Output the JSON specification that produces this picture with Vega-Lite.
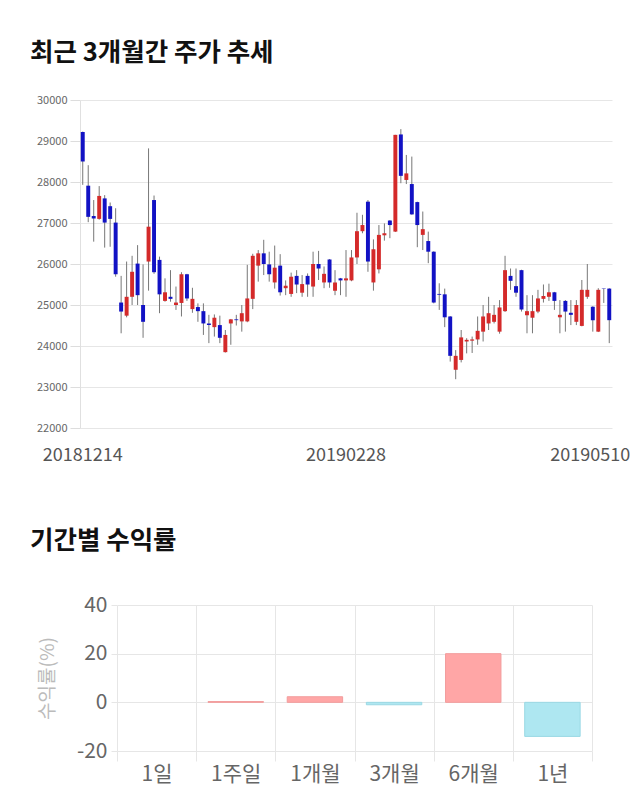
{
  "$schema": "https://vega.github.io/schema/vega-lite/v6.json",
  "background": "white",
  "padding": {"left": 30, "top": 40, "right": 5, "bottom": 20},
  "bounds": "flush",
  "spacing": 177,
  "config": {"view": {"stroke": null}, "font": "Noto Sans CJK KR"},
  "vconcat": [
    {
      "width": 532,
      "height": 328,
      "title": {"text": "최근 3개월간 주가 추세", "anchor": "start", "frame": "group", "dx": -50, "offset": 28, "fontSize": 25.5, "fontWeight": "bold", "color": "#111111", "font": "Noto Sans CJK KR"},
      "data": {"values": [
        {"d": "20181214", "o": 29220, "h": 29230, "l": 27930, "c": 28500},
        {"d": "20181217", "o": 27910, "h": 28410, "l": 27020, "c": 27150},
        {"d": "20181218", "o": 27170, "h": 27560, "l": 26545, "c": 27110},
        {"d": "20181219", "o": 27100, "h": 27900, "l": 27080, "c": 27660},
        {"d": "20181220", "o": 27600, "h": 27680, "l": 26400, "c": 27010},
        {"d": "20181221", "o": 27410, "h": 27500, "l": 26420, "c": 27100},
        {"d": "20181224", "o": 27010, "h": 27360, "l": 25690, "c": 25750},
        {"d": "20181226", "o": 25060, "h": 25710, "l": 24310, "c": 24840},
        {"d": "20181227", "o": 24740, "h": 26060, "l": 24700, "c": 25200},
        {"d": "20181228", "o": 25200, "h": 26200, "l": 25000, "c": 25810},
        {"d": "20190102", "o": 26010, "h": 26460, "l": 25000, "c": 25240},
        {"d": "20190103", "o": 25000, "h": 25990, "l": 24200, "c": 24590},
        {"d": "20190104", "o": 26060, "h": 28820, "l": 25350, "c": 26910},
        {"d": "20190107", "o": 27560, "h": 27670, "l": 25760, "c": 25800},
        {"d": "20190108", "o": 26100, "h": 26180, "l": 24800, "c": 25260},
        {"d": "20190109", "o": 25100, "h": 25650, "l": 25080, "c": 25310},
        {"d": "20190110", "o": 25200, "h": 25850, "l": 25080, "c": 25150},
        {"d": "20190111", "o": 25000, "h": 25450, "l": 24880, "c": 25060},
        {"d": "20190114", "o": 25050, "h": 25800, "l": 24720, "c": 25750},
        {"d": "20190115", "o": 25750, "h": 25760, "l": 25100, "c": 25160},
        {"d": "20190116", "o": 24900, "h": 25420, "l": 24810, "c": 25150},
        {"d": "20190117", "o": 24950, "h": 25040, "l": 24590, "c": 24850},
        {"d": "20190118", "o": 24850, "h": 25040, "l": 24270, "c": 24550},
        {"d": "20190121", "o": 24550, "h": 24760, "l": 24070, "c": 24510},
        {"d": "20190122", "o": 24460, "h": 24770, "l": 24230, "c": 24690},
        {"d": "20190123", "o": 24510, "h": 24740, "l": 24070, "c": 24200},
        {"d": "20190124", "o": 23850, "h": 24390, "l": 23840, "c": 24270},
        {"d": "20190125", "o": 24550, "h": 24660, "l": 24030, "c": 24650},
        {"d": "20190128", "o": 24650, "h": 24760, "l": 24500, "c": 24630},
        {"d": "20190129", "o": 24600, "h": 25000, "l": 24350, "c": 24800},
        {"d": "20190130", "o": 24600, "h": 25980, "l": 24580, "c": 25160},
        {"d": "20190131", "o": 25150, "h": 26250, "l": 24900, "c": 26200},
        {"d": "20190201", "o": 25960, "h": 26340, "l": 25570, "c": 26260},
        {"d": "20190207", "o": 26260, "h": 26590, "l": 25730, "c": 26000},
        {"d": "20190208", "o": 25990, "h": 26300, "l": 25570, "c": 25750},
        {"d": "20190211", "o": 25550, "h": 26450, "l": 25400, "c": 25910},
        {"d": "20190212", "o": 25960, "h": 26240, "l": 25230, "c": 25310},
        {"d": "20190213", "o": 25410, "h": 25600, "l": 25240, "c": 25470},
        {"d": "20190214", "o": 25270, "h": 25790, "l": 25200, "c": 25690},
        {"d": "20190215", "o": 25710, "h": 25850, "l": 25290, "c": 25500},
        {"d": "20190218", "o": 25300, "h": 25730, "l": 25200, "c": 25510},
        {"d": "20190219", "o": 25710, "h": 25770, "l": 25200, "c": 25500},
        {"d": "20190220", "o": 25450, "h": 26300, "l": 25200, "c": 26000},
        {"d": "20190221", "o": 26000, "h": 26320, "l": 25610, "c": 25890},
        {"d": "20190222", "o": 25550, "h": 25940, "l": 25410, "c": 25760},
        {"d": "20190225", "o": 26110, "h": 26120, "l": 25420, "c": 25550},
        {"d": "20190226", "o": 25350, "h": 25850, "l": 25240, "c": 25550},
        {"d": "20190227", "o": 25650, "h": 25660, "l": 25240, "c": 25600},
        {"d": "20190228", "o": 25600, "h": 26340, "l": 25200, "c": 25650},
        {"d": "20190304", "o": 25600, "h": 26340, "l": 25580, "c": 26160},
        {"d": "20190305", "o": 26160, "h": 27250, "l": 26000, "c": 26800},
        {"d": "20190306", "o": 26800, "h": 27200, "l": 26750, "c": 26950},
        {"d": "20190307", "o": 27520, "h": 27560, "l": 25810, "c": 26060},
        {"d": "20190308", "o": 25550, "h": 26600, "l": 25350, "c": 26360},
        {"d": "20190311", "o": 25870, "h": 26950, "l": 25770, "c": 26710},
        {"d": "20190312", "o": 26700, "h": 26990, "l": 26570, "c": 26750},
        {"d": "20190313", "o": 27060, "h": 27070, "l": 26630, "c": 26950},
        {"d": "20190314", "o": 26790, "h": 29150, "l": 26780, "c": 29150},
        {"d": "20190315", "o": 29160, "h": 29290, "l": 27970, "c": 28150},
        {"d": "20190318", "o": 28050, "h": 28660, "l": 27950, "c": 28210},
        {"d": "20190319", "o": 27950, "h": 28620, "l": 27200, "c": 27210},
        {"d": "20190320", "o": 27510, "h": 27520, "l": 26410, "c": 26950},
        {"d": "20190321", "o": 26710, "h": 27280, "l": 26340, "c": 26850},
        {"d": "20190322", "o": 26560, "h": 26790, "l": 26020, "c": 26300},
        {"d": "20190325", "o": 26300, "h": 26310, "l": 25040, "c": 25060},
        {"d": "20190326", "o": 25270, "h": 25530, "l": 24880, "c": 25250},
        {"d": "20190327", "o": 25260, "h": 25400, "l": 24460, "c": 24700},
        {"d": "20190328", "o": 24720, "h": 24730, "l": 23620, "c": 23760},
        {"d": "20190329", "o": 23420, "h": 23900, "l": 23190, "c": 23760},
        {"d": "20190401", "o": 23660, "h": 24390, "l": 23600, "c": 24210},
        {"d": "20190402", "o": 24110, "h": 24190, "l": 23820, "c": 24150},
        {"d": "20190403", "o": 24130, "h": 24230, "l": 23830, "c": 24160},
        {"d": "20190404", "o": 24160, "h": 24720, "l": 24030, "c": 24370},
        {"d": "20190405", "o": 24350, "h": 25000, "l": 24110, "c": 24720},
        {"d": "20190408", "o": 24550, "h": 25200, "l": 24390, "c": 24800},
        {"d": "20190409", "o": 24590, "h": 25000, "l": 24550, "c": 24760},
        {"d": "20190410", "o": 24350, "h": 25120, "l": 24300, "c": 24940},
        {"d": "20190411", "o": 24850, "h": 26200, "l": 24830, "c": 25850},
        {"d": "20190412", "o": 25710, "h": 25890, "l": 25370, "c": 25590},
        {"d": "20190415", "o": 25460, "h": 25890, "l": 25200, "c": 25300},
        {"d": "20190416", "o": 25850, "h": 25860, "l": 24840, "c": 24890},
        {"d": "20190417", "o": 24750, "h": 25240, "l": 24310, "c": 24850},
        {"d": "20190418", "o": 24690, "h": 25240, "l": 24310, "c": 24850},
        {"d": "20190419", "o": 24840, "h": 25370, "l": 24800, "c": 25160},
        {"d": "20190422", "o": 25150, "h": 25500, "l": 25060, "c": 25220},
        {"d": "20190423", "o": 25200, "h": 25520, "l": 25100, "c": 25310},
        {"d": "20190424", "o": 25310, "h": 25320, "l": 24880, "c": 25100},
        {"d": "20190425", "o": 24700, "h": 25120, "l": 24310, "c": 24760},
        {"d": "20190426", "o": 25100, "h": 25120, "l": 24350, "c": 24840},
        {"d": "20190429", "o": 24810, "h": 25120, "l": 24510, "c": 24760},
        {"d": "20190430", "o": 24590, "h": 25120, "l": 24510, "c": 25000},
        {"d": "20190502", "o": 24490, "h": 25610, "l": 24480, "c": 25370},
        {"d": "20190503", "o": 25200, "h": 26000, "l": 25150, "c": 25370},
        {"d": "20190507", "o": 24960, "h": 24970, "l": 24350, "c": 24630},
        {"d": "20190508", "o": 24350, "h": 25410, "l": 24340, "c": 25370},
        {"d": "20190509", "o": 25400, "h": 25400, "l": 25050, "c": 25390},
        {"d": "20190510", "o": 25400, "h": 25410, "l": 24070, "c": 24630}
      ]},
      "encoding": {
        "x": {
          "field": "d", "type": "ordinal", "sort": null,
          "scale": {"paddingInner": 0, "paddingOuter": 0},
          "axis": {
            "values": ["20181214", "20190228", "20190510"],
            "ticks": false, "domain": false, "grid": false,
            "labelAngle": 0, "labelFontSize": 18, "labelColor": "#555555",
            "labelPadding": 18, "labelOverlap": false, "labelFlush": false,
            "labelOffset": {"condition": {"test": "datum.value == '20190510'", "value": -19}, "value": 0},
            "title": null
          }
        }
      },
      "layer": [
        {
          "mark": {"type": "rule", "color": "#777777", "strokeWidth": 1},
          "encoding": {
            "y": {
              "field": "l", "type": "quantitative",
              "scale": {"domain": [22000, 30000], "zero": false, "nice": false},
              "axis": {
                "values": [22000, 23000, 24000, 25000, 26000, 27000, 28000, 29000, 30000],
                "format": "d", "labelFontSize": 11, "labelColor": "#666666",
                "grid": true, "gridColor": "#e6e6e6", "tickColor": "#dddddd", "tickSize": 10,
                "domain": true, "domainColor": "#e0e0e0", "labelPadding": 3, "title": null
              }
            },
            "y2": {"field": "h"}
          }
        },
        {
          "mark": {"type": "bar", "width": {"band": 0.72}},
          "encoding": {
            "y": {"field": "o", "type": "quantitative"},
            "y2": {"field": "c"},
            "color": {"condition": {"test": "datum.c >= datum.o", "value": "#d42a2a"}, "value": "#1212c4"}
          }
        }
      ]
    },
    {
      "bounds": "flush",
      "spacing": 0,
      "hconcat": [
        {
          "width": 37,
          "height": 146,
          "data": {"values": [{"z": 0}]},
          "mark": {"type": "point", "opacity": 0},
          "encoding": {}
        },
        {
          "width": 475,
          "height": 146,
          "title": {"text": "기간별 수익률", "anchor": "start", "frame": "group", "dx": -87, "offset": 40, "fontSize": 25.5, "fontWeight": "bold", "color": "#111111", "font": "Noto Sans CJK KR"},
          "data": {"values": [
            {"p": "1일", "r": 0},
            {"p": "1주일", "r": 0.3},
            {"p": "1개월", "r": 2.3},
            {"p": "3개월", "r": -1.0},
            {"p": "6개월", "r": 20.0},
            {"p": "1년", "r": -14.0}
          ]},
          "mark": {"type": "bar", "width": {"band": 0.7}, "strokeWidth": 1},
          "encoding": {
            "x": {
              "field": "p", "type": "nominal", "sort": null,
              "scale": {"paddingInner": 0, "paddingOuter": 0},
              "axis": {
                "tickBand": "extent", "grid": true, "gridColor": "#e6e6e6",
                "ticks": true, "tickColor": "#e6e6e6", "tickSize": 10,
                "domain": false, "labelAngle": 0, "labelFontSize": 21, "labelColor": "#666666",
                "labelPadding": 2, "title": null
              }
            },
            "y": {
              "field": "r", "type": "quantitative",
              "scale": {"domain": [-20, 40], "nice": false},
              "axis": {
                "values": [-20, 0, 20, 40], "grid": true, "gridColor": "#e6e6e6",
                "labelExpr": "'' + datum.value",
                "tickColor": "#e6e6e6", "tickSize": 6, "domain": false,
                "labelFontSize": 21, "labelColor": "#666666", "labelPadding": 4,
                "title": "수익률(%)", "titleFontSize": 19, "titleColor": "#bbbbbb",
                "titleFontWeight": "normal", "titlePadding": 19
              }
            },
            "color": {"condition": {"test": "datum.r >= 0", "value": "#ffa6a6"}, "value": "#aee7f1"},
            "stroke": {"condition": [{"test": "datum.r == 0", "value": "transparent"}, {"test": "datum.r > 0", "value": "#f29c9c"}], "value": "#9ad8e4"},
            "strokeOpacity": {"condition": {"test": "datum.r == 0", "value": 0}, "value": 1}
          }
        }
      ]
    }
  ]
}
